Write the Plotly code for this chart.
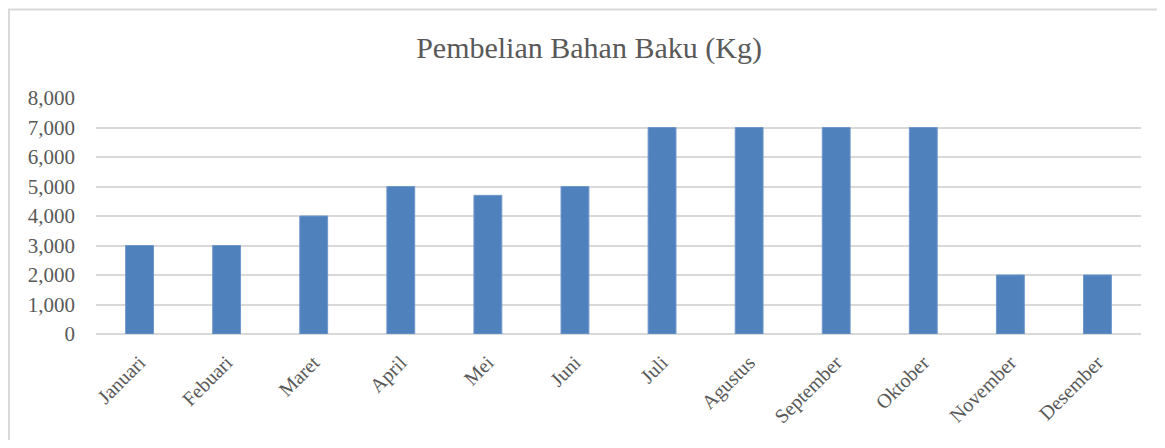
import plotly.graph_objects as go

months = ["Januari", "Febuari", "Maret", "April", "Mei", "Juni", "Juli",
          "Agustus", "September", "Oktober", "November", "Desember"]
purchases = [3000, 3000, 4000, 5000, 4700, 5000, 7000, 7000, 7000, 7000, 2000, 2000]
y_ticks = [0, 1000, 2000, 3000, 4000, 5000, 6000, 7000, 8000]

# page body has an 8px margin; figure sized to fit the 1165x448 window
OFF = 8
W, H = 1165 - 2 * OFF, 448 - 2 * OFF
L, T = 96 - OFF, 98 - OFF
R = W - (1141 - OFF)
B = H - (334 - OFF)
pw, ph = W - L - R, H - T - B

def px(x):
    return (x - OFF - L) / pw

def py(y):
    return (H - B - (y - OFF)) / ph

font_family = "Liberation Serif, DejaVu Serif, serif"

fig = go.Figure(go.Bar(
    x=months, y=purchases,
    marker=dict(color="#4f81bd", line=dict(color="#6f97cc", width=1)),
    hoverinfo="x+y",
))

fig.update_layout(
    width=W, height=H,
    margin=dict(l=L, r=R, t=T, b=B),
    paper_bgcolor="white", plot_bgcolor="white",
    bargap=0.68,
    showlegend=False,
    font=dict(family=font_family, color="#595959", size=20),
    title=dict(text="Pembelian Bahan Baku (Kg)", x=(589 - OFF) / W, xanchor="center",
               y=1 - (47 - OFF) / H, yanchor="middle",
               font=dict(family=font_family, size=30, color="#595959")),
    xaxis=dict(tickangle=-45, showgrid=False, showline=False, ticks="",
               ticklabelstandoff=12,
               tickfont=dict(size=20, color="#595959")),
    yaxis=dict(range=[0, 8000], tickvals=y_ticks, tickformat=",d",
               showgrid=True, gridcolor="#d9d9d9", gridwidth=1.5,
               zeroline=True, zerolinecolor="#d9d9d9", zerolinewidth=1.5,
               ticks="", ticklabelstandoff=20,
               tickfont=dict(size=21, color="#595959")),
    shapes=[
        dict(type="line", xref="paper", yref="paper",
             x0=px(8), x1=px(1175), y0=py(9.5), y1=py(9.5),
             line=dict(color="#d9d9d9", width=2)),
        dict(type="line", xref="paper", yref="paper",
             x0=px(9), x1=px(9), y0=py(9.5), y1=py(460),
             line=dict(color="#d9d9d9", width=2)),
    ],
)

fig.write_html("out.html")
